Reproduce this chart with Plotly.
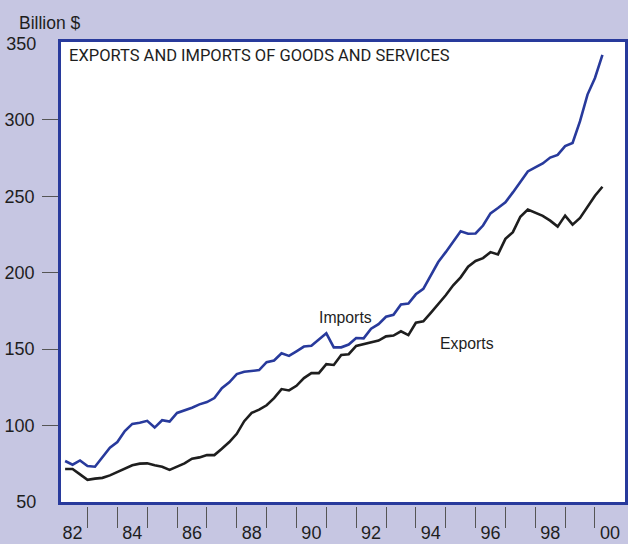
import plotly.graph_objects as go

# Quarterly data, 1982Q1 .. 2000Q1 (billion $)
quarters = [1982.25 + 0.25 * i for i in range(73)]

imports = [76.8, 74.4, 77.2, 73.6, 73.1, 79.6, 85.5, 89.2, 96.4, 101.1,
           101.8, 103.1, 98.7, 103.5, 102.6, 108.3, 109.8, 111.7, 113.9, 115.4,
           118.0, 124.5, 128.3, 133.7, 135.2, 135.6, 136.3, 141.5, 142.6, 147.3,
           145.6, 148.6, 151.7, 152.2, 156.0, 160.4, 151.2, 151.2, 153.0, 157.3,
           157.1, 163.4, 166.4, 171.2, 172.5, 179.2, 179.9, 185.9, 189.5, 198.3,
           207.0, 213.5, 220.7, 227.2, 225.5, 225.7, 230.9, 238.9, 242.4, 246.1,
           252.6, 259.8, 266.3, 268.9, 271.5, 275.4, 277.1, 282.9, 284.9, 299.2,
           316.6, 327.5, 342.6]

exports = [71.6, 71.6, 68.1, 64.5, 65.3, 65.8, 67.4, 69.7, 71.8, 74.0,
           75.1, 75.3, 74.0, 73.1, 71.0, 73.1, 75.3, 78.3, 79.2, 80.7,
           80.7, 84.8, 89.2, 94.6, 102.9, 108.3, 110.4, 113.3, 118.0, 123.9,
           123.0, 126.0, 131.1, 134.3, 134.3, 140.2, 139.7, 146.2, 146.7, 152.1,
           153.4, 154.3, 155.6, 158.4, 158.9, 161.7, 159.2, 167.3, 168.2, 173.8,
           179.2, 185.3, 191.8, 197.0, 204.0, 207.7, 209.6, 213.5, 212.0, 222.2,
           226.6, 236.7, 241.3, 239.3, 237.2, 234.1, 230.2, 237.4, 231.5, 235.9,
           242.8, 250.4, 256.3]

year_ticks = list(range(1983, 2001))
label_pos = [1982.5 + 2 * k for k in range(10)]
label_text = ["82", "84", "86", "88", "90", "92", "94", "96", "98", "00"]
y_ticks_inner = [100, 150, 200, 250, 300]
y_ticks_outer = [50, 350]

BG = "#c6c6e2"
BLUE = "#283a9c"
TXT = "#1e1e1e"
TICKC = "#555555"
REG = "Liberation Sans, Arial, Helvetica, sans-serif"
TITLEF = "Roboto, Liberation Sans, Arial, sans-serif"

xr = [1982.112, 2001.006]
yr = [50, 351]

fig = go.Figure()
fig.add_trace(go.Scatter(x=quarters, y=imports, mode="lines", name="Imports",
                         line=dict(color=BLUE, width=2.6), hoverinfo="skip"))
fig.add_trace(go.Scatter(x=quarters, y=exports, mode="lines", name="Exports",
                         line=dict(color="#1e1e1e", width=2.6), hoverinfo="skip"))
fig.add_trace(go.Scatter(x=[], y=[], xaxis="x2", yaxis="y", showlegend=False))
fig.add_trace(go.Scatter(x=[], y=[], xaxis="x", yaxis="y2", showlegend=False))

fig.update_layout(
    width=628, height=544,
    paper_bgcolor=BG, plot_bgcolor="white",
    margin=dict(l=61, r=3, t=42, b=38, autoexpand=False),
    showlegend=False,
    font=dict(family=REG, size=18, color=TXT),
    xaxis=dict(range=xr, tickmode="array", tickvals=label_pos, ticktext=label_text,
               ticks="outside", ticklen=13, tickcolor="rgba(0,0,0,0)", automargin=False,
               showline=True, linecolor=BLUE, linewidth=2.6, mirror=True,
               showgrid=False, zeroline=False, tickfont=dict(size=18, color=TXT)),
    xaxis2=dict(range=xr, overlaying="x", anchor="free", position=0, side="bottom",
                tickmode="array", tickvals=year_ticks, ticks="outside", ticklen=21,
                tickcolor=TICKC, tickwidth=1.3, showticklabels=False, automargin=False,
                showline=False, showgrid=False, zeroline=False),
    yaxis=dict(range=yr, domain=[4 / 464, 1], tickmode="array", tickvals=y_ticks_inner,
               ticks="outside", ticklen=16, tickcolor=TICKC, tickwidth=1.3,
               ticklabelstandoff=4, automargin=False,
               showline=True, linecolor=BLUE, linewidth=2.6, mirror=True,
               showgrid=False, zeroline=False, tickfont=dict(size=18, color=TXT)),
    yaxis2=dict(range=yr, overlaying="y", anchor="x", side="left",
                tickmode="array", tickvals=y_ticks_outer,
                ticks="outside", ticklen=16, tickcolor="rgba(0,0,0,0)",
                ticklabelstandoff=4, automargin=False,
                showline=False, showgrid=False, zeroline=False,
                tickfont=dict(size=18, color=TXT)),
)

fig.add_annotation(text="Billion $", xref="paper", yref="paper",
                   x=(17 - 61) / 564, y=(506 - 23) / 464, xanchor="left", yanchor="middle",
                   showarrow=False, font=dict(family=REG, size=17.5, color=TXT))
fig.add_annotation(text="EXPORTS AND IMPORTS OF GOODS AND SERVICES", xref="paper", yref="paper",
                   x=(67 - 61) / 564, y=(506 - 56) / 464, xanchor="left", yanchor="middle",
                   showarrow=False, font=dict(family=TITLEF, size=16.5, color=TXT))
fig.add_annotation(text="Imports", x=1990.69, y=170.5, xanchor="left", yanchor="middle",
                   showarrow=False, font=dict(family=REG, size=15.8, color=TXT))
fig.add_annotation(text="Exports", x=1994.75, y=153.5, xanchor="left", yanchor="middle",
                   showarrow=False, font=dict(family=REG, size=15.8, color=TXT))

fig.write_html("out.html", config={"displayModeBar": False},
               post_script="document.body.style.margin='0px';")
